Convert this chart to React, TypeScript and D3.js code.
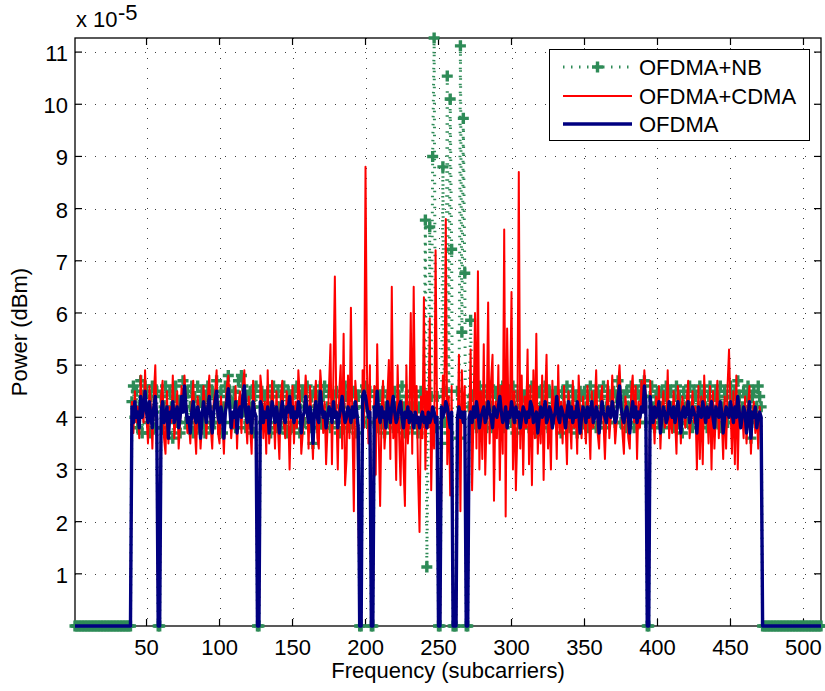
import React from "react";
import * as d3 from "d3";

const W = 825;
const H = 691;

// axis ticks
const xTicks = [50, 100, 150, 200, 250, 300, 350, 400, 450, 500];
const yTicks = [1, 2, 3, 4, 5, 6, 7, 8, 9, 10, 11];
const yExponent = "-5";
const xDomain = [1, 512];
const yDomain = [0, 11.27];

const seriesNames = ["OFDMA+NB", "OFDMA+CDMA", "OFDMA"];

// OFDMA+NB power per subcarrier 1..512 (units of 1e-5)
const ofdmaNb: number[] = [
  // 1-39
  0,0,0,0,0,0,0,0,0,0,
  0,0,0,0,0,0,0,0,0,0,
  0,0,0,0,0,0,0,0,0,0,
  0,0,0,0,0,0,0,0,0,
  // 40
  4.3,4.6,4.0,4.5,3.8,4.2,4.7,3.7,4.4,4.6,
  // 50
  4.5,3.9,3.7,4.4,4.6,4.1,3.8,4.5,0,0,
  // 60
  4.4,3.8,4.2,4.6,3.7,4.0,4.5,4.2,3.6,4.4,
  // 70
  4.6,3.9,4.3,3.7,4.2,4.7,4.4,3.9,4.5,3.8,
  // 80
  4.2,4.6,3.7,4.4,3.9,4.6,3.8,4.3,4.5,3.9,
  // 90
  3.7,4.4,4.6,4.2,3.8,4.5,3.9,4.4,4.7,4.2,
  // 100
  3.9,4.5,3.7,4.2,4.6,4.4,4.8,4.5,3.9,4.3,
  // 110
  4.5,3.8,4.2,4.7,4.3,4.8,4.6,4.1,3.8,4.4,
  // 120
  3.9,4.5,4.2,3.7,4.4,4.6,0,0,4.2,4.5,
  // 130
  3.9,4.4,3.8,4.5,4.2,3.7,4.4,4.6,3.9,3.8,
  // 140
  4.5,4.2,3.8,4.4,4.6,3.9,3.7,4.5,4.2,4.4,
  // 150
  3.8,4.5,3.9,4.6,4.2,3.7,4.4,4.5,3.9,4.2,
  // 160
  4.6,3.9,3.8,4.4,3.5,4.5,4.2,3.8,4.4,4.6,
  // 170
  3.9,4.4,4.6,3.8,4.2,4.5,3.8,3.9,4.4,4.2,
  // 180
  4.5,3.9,3.7,4.2,4.4,3.8,4.6,4.4,3.9,3.8,
  // 190
  4.4,3.9,4.5,4.2,3.7,4.4,0,0,4.5,4.2,
  // 200
  4.6,3.9,4.4,4.5,0,0,3.9,4.5,4.2,3.8,
  // 210
  4.4,3.9,4.5,3.7,4.2,4.4,3.9,4.5,4.2,3.8,
  // 220
  4.5,4.2,3.8,4.4,3.9,4.6,4.2,3.7,4.4,3.9,
  // 230
  4.2,4.5,3.8,4.2,4.4,3.9,3.7,4.2,4.5,3.9,
  // 240
  4.4,7.78,1.13,3.9,7.65,4.4,9.0,11.27,3.8,4.4,
  // 250
  0,0,3.5,8.8,3.9,4.5,10.54,3.7,10.1,7.22,
  // 260
  0,0,0,4.5,3.6,11.12,5.63,9.73,6.76,0,
  // 270
  0,4.2,5.86,4.4,3.9,4.5,3.8,4.2,4.6,4.4,
  // 280
  3.9,4.5,4.2,3.8,4.4,4.6,4.2,3.8,3.9,4.5,
  // 290
  4.4,3.9,4.5,4.2,4.6,3.8,4.2,3.9,4.5,4.4,
  // 300
  3.9,4.6,4.2,3.7,4.4,3.9,4.5,4.2,3.8,4.4,
  // 310
  4.2,4.5,3.8,3.9,4.6,4.2,4.4,3.7,3.9,4.5,
  // 320
  4.2,4.4,3.9,4.6,4.2,3.8,4.5,3.9,4.4,4.2,
  // 330
  4.5,3.9,4.4,4.2,3.7,4.5,4.2,3.9,4.6,4.4,
  // 340
  3.8,4.2,4.5,3.9,4.4,3.7,4.2,4.5,4.4,3.9,
  // 350
  4.5,4.2,3.8,4.4,4.6,3.9,4.4,4.2,3.8,4.5,
  // 360
  3.9,4.4,4.2,4.6,3.8,4.2,4.5,3.9,4.4,4.2,
  // 370
  4.5,3.9,4.4,4.7,4.5,3.9,4.2,4.4,3.8,4.5,
  // 380
  4.2,3.9,4.6,4.4,3.8,4.2,4.5,3.9,4.4,4.6,
  // 390
  4.4,4.7,3.9,0,0,4.4,4.6,4.2,3.8,4.4,
  // 400
  4.5,3.9,4.2,4.5,3.8,4.4,4.6,4.2,3.9,4.5,
  // 410
  4.2,3.8,4.4,4.6,3.9,4.4,4.2,3.7,4.5,4.2,
  // 420
  3.9,4.4,4.6,4.2,3.8,4.5,4.4,3.9,4.2,4.6,
  // 430
  4.4,3.9,4.5,4.2,3.8,4.4,4.6,4.2,3.9,4.4,
  // 440
  4.5,3.9,4.4,4.6,3.8,4.2,4.5,4.4,3.9,4.2,
  // 450
  4.6,4.4,3.9,4.5,4.2,4.7,4.4,3.9,4.2,4.5,
  // 460
  3.9,4.4,4.6,4.2,3.6,4.4,4.5,3.9,4.2,4.6,
  // 470-471
  4.4,4.2,
  // 472-512
  0,0,0,0,0,0,0,0,
  0,0,0,0,0,0,0,0,0,0,
  0,0,0,0,0,0,0,0,0,0,
  0,0,0,0,0,0,0,0,0,0,
  0,0,0,
];

// OFDMA+CDMA power per subcarrier 1..512 (units of 1e-5)
const ofdmaCdma: number[] = [
  // 1-39
  0,0,0,0,0,0,0,0,0,0,
  0,0,0,0,0,0,0,0,0,0,
  0,0,0,0,0,0,0,0,0,0,
  0,0,0,0,0,0,0,0,0,
  // 40
  4.3,3.7,4.5,3.9,4.2,3.6,4.8,4.1,3.9,4.9,
  // 50
  4.0,3.5,4.6,4.2,3.4,4.4,5.0,3.8,0,0,
  // 60
  4.4,4.7,3.6,3.3,4.5,3.5,4.2,3.9,4.8,3.6,
  // 70
  4.0,4.5,3.4,3.9,4.6,4.2,4.8,4.3,3.7,3.9,
  // 80
  3.5,4.3,4.7,3.8,3.3,4.4,4.1,3.4,3.9,4.6,
  // 90
  4.2,3.6,4.4,4.8,3.8,3.4,4.3,4.5,4.9,3.7,
  // 100
  3.5,4.4,3.9,3.3,4.2,4.6,4.8,4.3,3.6,4.0,
  // 110
  3.8,4.6,3.4,4.2,4.5,3.7,4.6,4.9,4.0,3.5,
  // 120
  4.4,3.8,3.3,4.7,4.2,3.9,0,0,4.8,4.5,
  // 130
  3.6,4.3,3.3,4.9,3.5,3.9,4.7,4.2,3.4,4.5,
  // 140
  3.8,3.2,4.4,4.7,3.9,3.6,4.5,4.2,3.0,4.1,
  // 150
  4.6,3.5,4.3,3.8,4.9,4.4,3.3,3.7,4.2,4.8,
  // 160
  4.3,3.4,4.6,3.9,3.2,4.2,4.7,3.6,3.4,4.9,
  // 170
  4.5,3.7,4.3,3.1,3.8,4.6,5.4,3.1,4.8,6.7,
  // 180
  4.2,3.0,4.5,5.0,3.4,5.6,2.7,3.2,4.8,3.6,
  // 190
  6.1,3.9,2.2,4.7,4.3,2.7,0,0,4.9,3.8,
  // 200
  8.8,4.9,3.5,5.0,0,0,4.6,2.9,5.4,3.7,
  // 210
  2.3,4.1,4.7,3.4,3.9,4.4,5.1,3.2,6.5,3.6,
  // 220
  4.2,2.8,5.0,3.7,2.7,4.3,3.1,2.3,5.0,3.5,
  // 230
  4.0,6.0,3.3,6.5,3.9,4.6,2.9,1.8,4.4,3.6,
  // 240
  6.3,3.0,4.5,3.8,5.9,2.6,4.2,3.4,7.2,4.1,
  // 250
  0,0,3.0,4.8,4.2,7.8,3.1,4.4,2.5,4.6,
  // 260
  0,0,0,3.6,5.2,2.2,4.9,3.9,4.6,0,
  // 270
  0,3.8,5.3,2.6,4.1,6.0,3.4,6.8,3.0,4.5,
  // 280
  3.2,5.4,2.9,4.0,6.2,3.5,4.7,5.2,2.4,4.3,
  // 290
  3.6,5.0,2.8,4.6,3.3,7.6,2.1,5.7,3.9,4.2,
  // 300
  6.4,3.0,4.5,2.6,3.7,8.7,3.4,4.8,2.9,4.4,
  // 310
  3.8,5.3,3.1,4.6,2.7,4.9,3.6,5.6,3.3,4.2,
  // 320
  3.5,4.8,2.8,4.3,5.2,3.4,4.1,3.0,4.7,3.9,
  // 330
  4.4,3.2,5.0,3.7,4.3,3.5,4.6,3.9,3.1,4.5,
  // 340
  4.0,3.4,4.7,3.8,4.2,3.3,4.8,4.1,3.6,4.4,
  // 350
  3.9,3.5,4.6,4.0,3.2,4.5,3.8,4.2,4.9,3.7,
  // 360
  3.4,4.3,4.6,3.9,3.2,4.1,4.7,3.6,4.0,4.8,
  // 370
  4.2,3.5,3.9,4.6,5.0,4.3,3.7,3.3,4.4,4.1,
  // 380
  3.6,3.4,4.5,4.8,3.9,4.6,3.2,4.3,3.8,4.7,
  // 390
  4.2,4.9,4.4,0,0,4.7,3.8,4.2,3.5,4.4,
  // 400
  4.0,4.6,3.4,4.1,4.5,3.8,3.9,4.9,3.6,4.2,
  // 410
  3.7,4.5,4.0,3.3,4.6,4.2,3.5,4.4,4.1,3.8,
  // 420
  4.3,4.7,3.6,4.0,4.5,3.9,4.2,3.0,4.6,3.2,
  // 430
  4.4,3.1,4.8,3.9,4.2,3.5,4.6,3.0,4.5,3.4,
  // 440
  4.1,4.7,3.6,4.3,4.0,3.2,4.4,3.4,4.6,5.3,
  // 450
  4.2,3.3,4.5,3.1,4.8,3.0,4.3,3.9,4.1,3.6,
  // 460
  4.4,3.5,4.2,4.6,3.3,4.0,4.3,3.7,4.1,3.4,
  // 470-471
  4.2,3.9,
  // 472-512
  0,0,0,0,0,0,0,0,
  0,0,0,0,0,0,0,0,0,0,
  0,0,0,0,0,0,0,0,0,0,
  0,0,0,0,0,0,0,0,0,0,
  0,0,0,
];

// OFDMA power per subcarrier 1..512 (units of 1e-5)
const ofdma: number[] = [
  // 1-39
  0,0,0,0,0,0,0,0,0,0,
  0,0,0,0,0,0,0,0,0,0,
  0,0,0,0,0,0,0,0,0,0,
  0,0,0,0,0,0,0,0,0,
  // 40
  4.2,3.9,4.3,4.0,4.1,3.8,4.4,4.0,4.2,4.5,
  // 50
  4.1,3.9,4.3,4.0,3.8,4.2,4.4,4.0,0,0,
  // 60
  4.1,4.3,3.9,4.0,4.2,3.6,4.1,4.0,4.3,3.9,
  // 70
  4.1,4.2,3.8,4.0,4.4,4.1,4.6,4.2,3.9,4.0,
  // 80
  3.7,4.1,4.3,4.0,3.9,4.2,4.1,3.6,4.0,4.3,
  // 90
  4.1,3.9,4.2,4.4,4.0,3.7,4.1,4.3,4.5,4.0,
  // 100
  3.9,4.2,4.0,3.6,4.1,4.3,4.55,4.2,3.8,4.1,
  // 110
  4.0,4.3,3.7,4.1,4.2,4.0,4.4,4.6,4.1,3.9,
  // 120
  4.2,4.0,3.7,4.3,4.1,4.0,0,0,4.3,4.2,
  // 130
  3.9,4.1,4.0,4.2,3.7,4.0,4.3,4.1,3.9,4.2,
  // 140
  4.0,3.7,4.1,4.3,4.0,3.9,4.2,4.1,4.4,4.0,
  // 150
  4.2,3.9,4.1,4.0,4.3,4.2,3.7,4.0,4.1,4.4,
  // 160
  4.1,3.9,4.2,4.0,3.5,4.1,4.3,4.0,3.9,4.5,
  // 170
  4.2,4.0,4.1,3.8,4.0,4.2,4.1,3.9,4.3,4.0,
  // 180
  4.1,3.8,4.0,4.2,4.4,4.1,3.9,4.0,4.2,4.1,
  // 190
  3.9,4.2,4.0,4.3,4.1,3.8,0,0,4.4,4.5,
  // 200
  4.4,4.2,4.0,4.1,0,0,4.2,4.0,4.5,4.1,
  // 210
  3.9,4.2,4.0,4.1,3.8,4.3,4.1,3.9,4.2,4.4,
  // 220
  4.1,3.9,4.0,4.2,4.3,4.0,3.8,4.1,4.0,4.2,
  // 230
  3.9,4.1,4.0,3.8,4.1,3.9,4.0,3.8,4.0,4.1,
  // 240
  3.9,4.0,3.8,4.1,3.9,4.0,4.2,4.1,3.9,4.0,
  // 250
  0,0,4.2,4.0,4.1,4.3,4.2,4.0,3.8,4.1,
  // 260
  0,0,0,4.0,4.2,4.0,4.1,3.9,4.1,0,
  // 270
  0,4.0,4.1,3.9,4.2,4.0,4.3,4.1,3.8,4.0,
  // 280
  4.1,4.2,3.9,4.0,4.3,4.1,4.0,3.8,4.2,4.1,
  // 290
  4.0,4.2,4.4,4.1,3.9,4.0,4.2,3.8,4.1,4.0,
  // 300
  4.3,4.1,3.9,4.2,4.0,4.1,3.8,4.0,4.2,4.1,
  // 310
  3.9,4.1,4.0,4.3,4.2,3.9,4.0,4.1,3.7,4.0,
  // 320
  4.2,4.0,4.1,4.3,3.9,4.0,4.2,4.1,3.8,4.0,
  // 330
  4.1,4.4,4.0,3.9,4.2,4.1,4.0,3.8,4.1,4.3,
  // 340
  4.0,4.2,3.9,4.1,4.0,4.3,4.1,3.7,4.0,4.2,
  // 350
  4.1,3.9,4.2,4.0,4.1,4.3,3.9,4.0,4.2,4.1,
  // 360
  3.7,4.0,4.3,4.1,4.0,3.9,4.2,4.1,4.0,4.3,
  // 370
  4.1,3.9,4.0,4.4,4.6,4.2,4.0,3.9,4.1,4.2,
  // 380
  4.0,3.7,4.1,4.3,4.0,4.2,3.9,4.1,4.0,4.2,
  // 390
  4.1,4.6,4.3,0,0,4.4,4.1,3.9,4.2,4.0,
  // 400
  4.1,4.3,3.7,4.0,4.2,4.1,3.9,4.0,4.3,4.1,
  // 410
  4.0,4.2,3.9,4.1,4.3,4.0,3.7,4.1,4.2,4.0,
  // 420
  4.1,4.3,3.9,4.0,4.2,4.1,4.0,3.7,4.2,4.1,
  // 430
  4.0,4.3,4.1,3.9,4.2,4.0,4.1,4.3,4.0,3.8,
  // 440
  4.2,4.1,4.0,4.3,4.1,3.7,4.0,4.2,4.1,4.0,
  // 450
  4.3,4.1,3.9,4.2,4.0,4.4,4.1,3.8,4.0,4.2,
  // 460
  4.1,3.7,4.0,4.3,3.6,4.1,4.0,4.2,3.8,4.0,
  // 470-471
  4.1,4.0,
  // 472-512
  0,0,0,0,0,0,0,0,
  0,0,0,0,0,0,0,0,0,0,
  0,0,0,0,0,0,0,0,0,0,
  0,0,0,0,0,0,0,0,0,0,
  0,0,0,
];

const GREEN = "#2E8B57";
const RED = "#FF0000";
const NAVY = "#000080";
const FONT = "'Liberation Sans', Arial, Helvetica, sans-serif";

export default function App() {
  const left = 75, right = 821, top = 38, bottom = 626;
  const x = d3.scaleLinear().domain(xDomain).range([left, right]);
  const y = d3.scaleLinear().domain(yDomain).range([bottom, top]);

  const subcarriers = d3.range(1, ofdma.length + 1);

  const line = d3
    .line<number>()
    .x((_, i) => x(subcarriers[i]))
    .y((d) => y(d));

  const plus = "M-5.5,0H5.5M0,-5.5V5.5";

  const legendX = 549.5, legendY = 49.5, legendW = 260, legendH = 91;
  const rowY = [67, 96, 124];

  return (
    <svg
      width={W}
      height={H}
      style={{ position: "absolute", left: 0, top: 0, background: "#fff" }}
      fontFamily={FONT}
    >
      <rect x={0} y={0} width={W} height={H} fill="#fff" />
      {/* grid */}
      <g stroke="#000" strokeWidth={1} strokeDasharray="1,9" opacity={0.75}>
        {xTicks.map((t) => (
          <line key={"gx" + t} x1={Math.round(x(t)) + 0.5} x2={Math.round(x(t)) + 0.5} y1={top} y2={bottom} />
        ))}
        {yTicks.map((t) => (
          <line key={"gy" + t} x1={left} x2={right} y1={Math.round(y(t)) + 0.5} y2={Math.round(y(t)) + 0.5} />
        ))}
      </g>
      {/* box and ticks */}
      <rect x={left} y={top} width={right - left} height={bottom - top} fill="none" stroke="#000" strokeWidth={1.3} />
      <g stroke="#000" strokeWidth={1.2}>
        {xTicks.map((t) => (
          <g key={"tx" + t}>
            <line x1={x(t)} x2={x(t)} y1={bottom} y2={bottom - 7} />
            <line x1={x(t)} x2={x(t)} y1={top} y2={top + 7} />
          </g>
        ))}
        {yTicks.map((t) => (
          <g key={"ty" + t}>
            <line x1={left} x2={left + 7} y1={y(t)} y2={y(t)} />
            <line x1={right} x2={right - 7} y1={y(t)} y2={y(t)} />
          </g>
        ))}
      </g>
      {/* tick labels */}
      <g fontSize={22} fill="#000">
        {xTicks.map((t) => (
          <text key={"lx" + t} x={x(t)} y={654.5} textAnchor="middle">
            {t}
          </text>
        ))}
        {yTicks.map((t) => (
          <text key={"ly" + t} x={68} y={y(t) + 9} textAnchor="end">
            {t}
          </text>
        ))}
        <text x={76} y={27}>x 10</text>
        <text x={118} y={19.5}>{yExponent}</text>
      </g>
      {/* axis labels */}
      <text x={(left + right) / 2} y={678} textAnchor="middle" fontSize={22}>
        Frequency (subcarriers)
      </text>
      <text transform={`translate(27,${(top + bottom) / 2}) rotate(-90)`} textAnchor="middle" fontSize={22}>
        Power (dBm)
      </text>

      {/* OFDMA+NB */}
      <path d={line(ofdmaNb) || ""} fill="none" stroke={GREEN} strokeWidth={3} strokeDasharray="1.5,6.5" />
      <g stroke={GREEN} strokeWidth={3.4} fill="none">
        {ofdmaNb.map((v, i) => (
          <path key={"m" + i} d={plus} transform={`translate(${x(subcarriers[i])},${y(v)})`} />
        ))}
      </g>
      {/* OFDMA+CDMA */}
      <path d={line(ofdmaCdma) || ""} fill="none" stroke={RED} strokeWidth={2} strokeLinejoin="round" />
      {/* OFDMA */}
      <path d={line(ofdma) || ""} fill="none" stroke={NAVY} strokeWidth={3.4} strokeLinejoin="round" />

      {/* legend */}
      <rect x={legendX} y={legendY} width={legendW} height={legendH} fill="#fff" stroke="#000" strokeWidth={1} />
      <line x1={563} x2={632} y1={rowY[0]} y2={rowY[0]} stroke={GREEN} strokeWidth={3} strokeDasharray="1.5,6.5" />
      <path d={plus} transform={`translate(597.5,${rowY[0]})`} stroke={GREEN} strokeWidth={3.4} fill="none" />
      <line x1={563} x2={632} y1={rowY[1]} y2={rowY[1]} stroke={RED} strokeWidth={2} />
      <line x1={563} x2={632} y1={rowY[2]} y2={rowY[2]} stroke={NAVY} strokeWidth={3.4} />
      <g fontSize={22}>
        {seriesNames.map((n, i) => (
          <text key={n} x={639} y={rowY[i] + 8}>
            {n}
          </text>
        ))}
      </g>
    </svg>
  );
}
